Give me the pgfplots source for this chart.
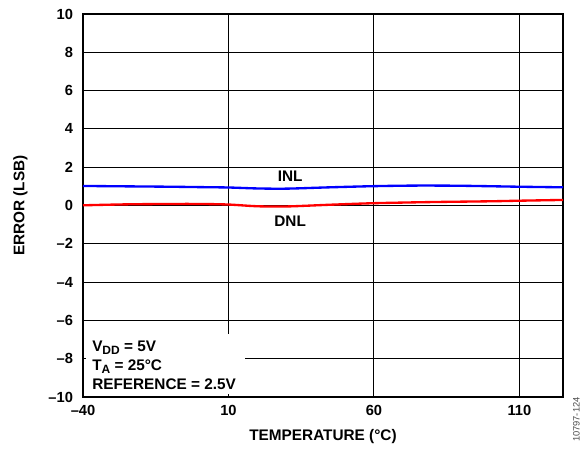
\documentclass[border=0pt]{standalone}
\usepackage{fontspec}
\setmainfont{Liberation Sans}
\usepackage{pgfplots}
\pgfplotsset{compat=1.18}
\pgfdeclarelayer{boxlayer}
\pgfplotsset{
  layers/mylayers/.define layer set={
    axis background,axis grid,boxlayer,axis ticks,axis lines,axis tick labels,pre main,main,axis descriptions,axis foreground
  }{
    grid style={/pgfplots/on layer=axis grid},
    tick style={/pgfplots/on layer=axis ticks},
    axis line style={/pgfplots/on layer=axis lines},
    label style={/pgfplots/on layer=axis descriptions},
    legend style={/pgfplots/on layer=axis descriptions},
    title style={/pgfplots/on layer=axis descriptions},
    colorbar style={/pgfplots/on layer=axis descriptions},
    ticklabel style={/pgfplots/on layer=axis tick labels},
    axis background@ style={/pgfplots/on layer=axis background},
    3d box foreground style={/pgfplots/on layer=axis foreground},
  },
}
\newcommand{\sub}[1]{\raisebox{-0.35ex}{\fontsize{9}{9}\selectfont #1}}
\begin{document}
\begin{tikzpicture}
\begin{axis}[
  name=ax,
  set layers=mylayers,
  scale only axis,
  width=360pt, height=287.25pt,
  xmin=-40, xmax=125, ymin=-10, ymax=10,
  xtick={-40,10,60,110},
  xticklabels={--40,10,60,110},
  ytick={-10,-8,-6,-4,-2,0,2,4,6,8,10},
  yticklabels={--10,--8,--6,--4,--2,0,2,4,6,8,10},
  tick pos=left,
  tick align=inside,
  major tick length=2.5pt,
  xmajorgrids, ymajorgrids,
  grid style={black, line width=0.8pt},
  axis line style={black, line width=1.3pt},
  tick style={black, line width=0.8pt},
  ticklabel style={font=\fontsize{11}{13}\selectfont\bfseries},
  yticklabel style={xshift=-4pt},
  xticklabel style={yshift=-3pt},
  every axis x label/.style={at={(axis description cs:0.5,0)}, anchor=center, yshift=-30pt, font=\fontsize{11.5}{13}\selectfont\bfseries},
  every axis y label/.style={at={(axis description cs:0,0.5)}, xshift=-47pt, rotate=90, anchor=center, font=\fontsize{11.5}{13}\selectfont\bfseries},
  xlabel={TEMPERATURE (°C)},
  ylabel={ERROR (LSB)},
]
\begin{pgfonlayer}{boxlayer}
  \fill[white] (axis cs:-40,-10) rectangle (axis cs:15.7,-6.71);
\end{pgfonlayer}
\addplot[blue, line width=1.75pt, smooth] coordinates {
  (-40,1.02) (-25,1.00) (-10,0.98) (0,0.96) (10,0.94) (20,0.89) (30,0.88)
  (45,0.95) (60,1.01) (75,1.04) (90,1.03) (110,0.98) (125,0.95)
};
\addplot[red, line width=1.75pt, smooth] coordinates {
  (-40,0.01) (-25,0.06) (-10,0.08) (0,0.08) (10,0.05) (20,-0.04) (30,-0.05)
  (45,0.04) (60,0.12) (80,0.18) (100,0.22) (110,0.25) (125,0.29)
};
\node[font=\fontsize{11.5}{13}\selectfont\bfseries] at (axis cs:31.2,1.54) {INL};
\node[font=\fontsize{11.5}{13}\selectfont\bfseries] at (axis cs:31.2,-0.81) {DNL};
\node[anchor=south west, align=left, inner sep=0pt, font=\fontsize{11.5}{14.25}\selectfont\bfseries]
  at ([xshift=6.75pt, yshift=5.25pt]rel axis cs:0,0)
  {V\sub{DD} = 5V\\T\sub{A} = 25°C\\REFERENCE = 2.5V};
\end{axis}
\node[rotate=90, anchor=center, text=black!70, font=\fontsize{7}{8}\selectfont] at ([xshift=10pt, yshift=-17pt]ax.south east) {10797-124};
\pgfresetboundingbox
\path[use as bounding box] ([xshift=-62.25pt, yshift=-39.75pt]ax.south west) rectangle ([xshift=14.25pt, yshift=10.5pt]ax.north east);
\end{tikzpicture}
\end{document}
